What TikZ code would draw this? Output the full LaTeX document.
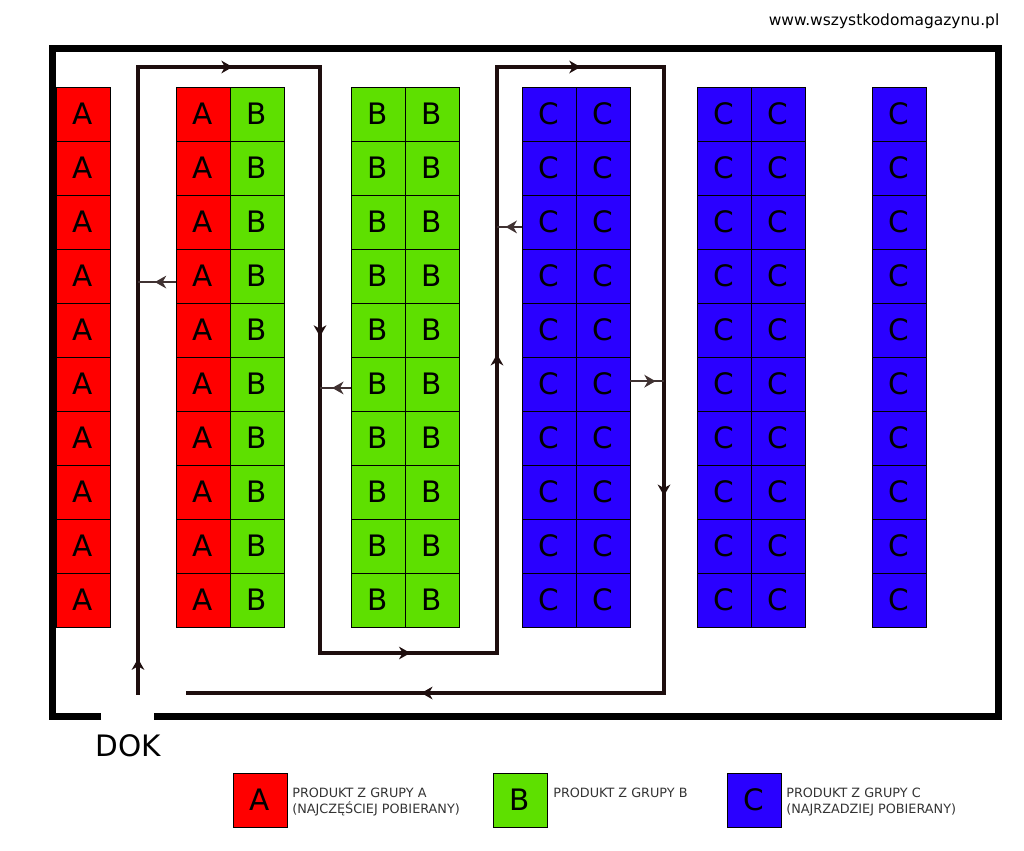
\documentclass[tikz,border=0pt]{standalone}
\usepackage{fontspec}
\setmainfont{DejaVu Sans}
\usetikzlibrary{arrows.meta,decorations.markings}
\definecolor{grpA}{RGB}{255,0,0}
\definecolor{grpB}{RGB}{94,224,0}
\definecolor{grpC}{RGB}{42,0,255}
\definecolor{route}{RGB}{30,14,14}

\begin{document}
\begin{tikzpicture}[x=0.025cm, y=-0.025cm,
    cell/.style={rectangle, draw, line width=0.6pt, minimum width=1.35cm, minimum height=1.35cm,
                 inner sep=0pt, font=\fontsize{21}{21}\selectfont},
    walk/.style={draw=route, line width=2.2pt, line cap=rect},
    spur/.style={draw=route!85, line width=1.5pt},
    marrow/.style={postaction={decorate}, decoration={markings,
                   mark=at position #1 with {\arrow{Stealth[length=8pt,width=9pt,inset=2.5pt]}}}},
    legtext/.style={anchor=north west, inner sep=0pt, align=left, text=black!80,
                    font=\fontsize{9.1}{11.3}\selectfont}
]
    \useasboundingbox (0,0) rectangle (1024,850);

    % Warehouse walls with the dock opening
    \draw[line width=5pt] (101,716) -- (52.5,716) -- (52.5,48.5) -- (998,48.5) -- (998,716) -- (154,716);
    \node (dok) at (128,746) {\fontsize{21}{21}\selectfont DOK};
    \node[anchor=base] (www) at (884,25) {\fontsize{11}{11}\selectfont www.wszystkodomagazynu.pl};

    % Racks: left edge / group letter / colour
    \foreach \c/\x/\g/\col in {1/56/A/grpA, 2/176/A/grpA, 3/230/B/grpB, 4/351/B/grpB, 5/405/B/grpB,
                               6/522/C/grpC, 7/576/C/grpC, 8/697/C/grpC, 9/751/C/grpC, 10/872/C/grpC} {
        \foreach \r in {1,...,10} {
            \node[cell, fill=\col] (cell-\c-\r) at ({\x+27},{60+54*\r}) {\g};
        }
    }

    % Picking route
    \coordinate (start) at (138,693);
    \coordinate (p1) at (138,67);
    \coordinate (p2) at (320,67);
    \coordinate (p3) at (320,653);
    \coordinate (p4) at (497,653);
    \coordinate (p5) at (497,67);
    \coordinate (p6) at (664,67);
    \coordinate (p7) at (664,693);
    \coordinate (stop) at (188,693);

    \foreach \a/\b/\p in {start/p1/0.055, p1/p2/0.52, p2/p3/0.46, p3/p4/0.51,
                          p4/p5/0.51, p5/p6/0.5, p6/p7/0.685, p7/stop/0.51} {
        \draw[walk, marrow=\p] (\a) -- (\b);
    }

    % Picks from the racks
    \coordinate (s1) at ([yshift=-4.3pt]cell-2-4.west);
    \coordinate (s2) at ([yshift=-2.8pt]cell-4-6.west);
    \coordinate (s3) at ([yshift=-3.5pt]cell-6-3.west);
    \coordinate (s4) at ([yshift=2pt]cell-7-6.east);
    \draw[spur, marrow=0.55] (s1) -- (s1 -| start);
    \draw[spur, marrow=0.6] (s2) -- (s2 -| p2);
    \draw[spur, marrow=0.65] (s3) -- (s3 -| p5);
    \draw[spur, marrow=0.75] (s4) -- (s4 -| p6);

    % Key
    \node[cell, fill=grpA] (keyA) at (260,800) {A};
    \node[cell, fill=grpB] (keyB) at (520,800) {B};
    \node[cell, fill=grpC] (keyC) at (754,800) {C};
    \node[legtext] (txtA) at (292,788) {PRODUKT Z GRUPY A\\(NAJCZĘŚCIEJ POBIERANY)};
    \node[legtext] (txtB) at (553,788) {PRODUKT Z GRUPY B};
    \node[legtext] (txtC) at (786,788) {PRODUKT Z GRUPY C\\(NAJRZADZIEJ POBIERANY)};
\end{tikzpicture}
\end{document}
